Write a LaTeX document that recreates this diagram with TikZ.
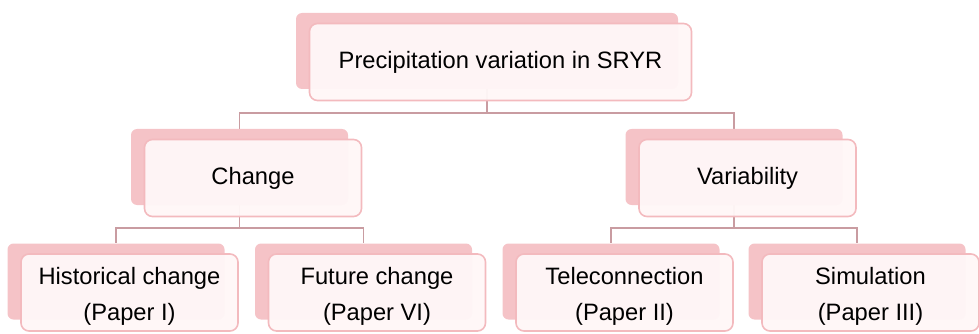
\documentclass[tikz,border=0pt]{standalone}
\usepackage{fontspec}
\setmainfont{Liberation Sans}
\usetikzlibrary{backgrounds}
\definecolor{backpink}{HTML}{F5C3C7}
\definecolor{edgepink}{HTML}{F3BABE}
\definecolor{fillpink}{HTML}{FFF7F7}
\definecolor{connpink}{HTML}{C99CA1}
\tikzset{
  x=1pt, y=-1pt,
  backbox/.style={fill=backpink, draw=none, rounded corners=6pt, minimum width=217pt, minimum height=76pt, inner sep=0pt},
  frontbox/.style={fill=fillpink, fill opacity=0.96, text opacity=1, draw=edgepink, line width=1.6pt, rounded corners=8pt, minimum width=217pt, minimum height=77pt, inner sep=0pt, align=center, font=\fontsize{23.7}{36}\selectfont},
  conn/.style={draw=connpink, line width=1.5pt},
}
\begin{document}
\begin{tikzpicture}
\useasboundingbox (0,0) rectangle (979,334);
% top
\node[backbox, minimum width=382pt] (tb) at (487,51) {};
\node[frontbox, minimum width=382pt] (tf) at (500.5,62) {Precipitation variation in SRYR};
% level 2
\node[backbox] (cb) at (239.5,167) {};
\node[frontbox] (cf) at (253,178) {Change};
\node[backbox] (vb) at (734,167) {};
\node[frontbox] (vf) at (747.5,178) {Variability};
% level 3
\node[backbox] (hb) at (116,281.5) {};
\node[frontbox] (hf) at (129.5,292.5) {\strut Historical change\\(Paper I)};
\node[backbox] (fb) at (363.5,281.5) {};
\node[frontbox] (ff) at (377,292.5) {\strut Future change\\(Paper VI)};
\node[backbox] (eb) at (611,281.5) {};
\node[frontbox] (ef) at (624.5,292.5) {\strut Teleconnection\\(Paper II)};
\node[backbox] (sb) at (857,281.5) {};
\node[frontbox] (sf) at (870.5,292.5) {\strut Simulation\\(Paper III)};
\begin{scope}[on background layer]
\coordinate (bus1) at (0,113);
\coordinate (bus2) at (0,228);
\draw[conn] (tb.south) -- (tb.south |- bus1) -| (cb.north);
\draw[conn] (tb.south |- bus1) -| (vb.north);
\draw[conn] (cb.south) -- (cb.south |- bus2) -| (hb.north);
\draw[conn] (cb.south |- bus2) -| (fb.north);
\draw[conn] (vb.south) -- (vb.south |- bus2) -| (eb.north);
\draw[conn] (vb.south |- bus2) -| (sb.north);
\end{scope}
\end{tikzpicture}
\end{document}
